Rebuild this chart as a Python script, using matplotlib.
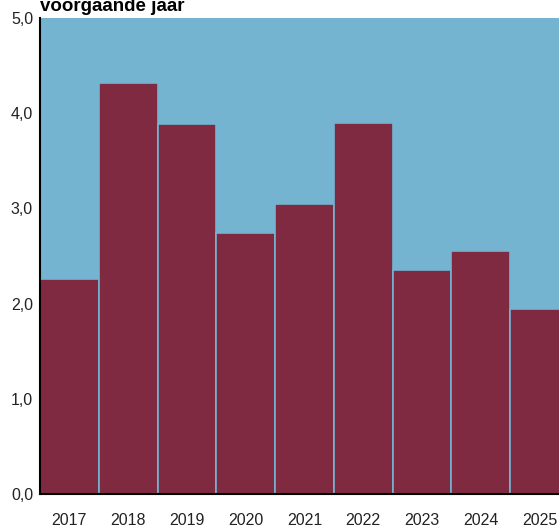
import matplotlib.pyplot as plt

plt.rcParams["font.family"] = ["Liberation Sans", "DejaVu Sans"]

years = ["2017", "2018", "2019", "2020", "2021", "2022", "2023", "2024", "2025"]
values = [2.26, 4.32, 3.89, 2.74, 3.05, 3.90, 2.35, 2.55, 1.94]
y_ticks = [0, 1, 2, 3, 4, 5]
y_labels = ["0,0", "1,0", "2,0", "3,0", "4,0", "5,0"]

BG = "#74b4d0"
BAR = "#7f2a40"

W, H = 559, 528
fig = plt.figure(figsize=(W / 100, H / 100), dpi=100)
ax = fig.add_axes([40 / W, 34 / H, 529 / W, 476 / H])
ax.set_facecolor(BG)

ax.bar(range(len(years)), values, width=1.0, color=BAR, edgecolor=BG, linewidth=1.2)
ax.set_xlim(-0.5, len(years) - 0.5)
ax.set_ylim(0, 5)
ax.set_yticks(y_ticks, y_labels)
ax.set_xticks(range(len(years)), years)
ax.tick_params(axis="both", length=0, labelsize=11.5, colors="#222222")
ax.tick_params(axis="x", pad=14)
ax.tick_params(axis="y", pad=5)

for side in ("top", "right"):
    ax.spines[side].set_visible(False)
for side in ("left", "bottom"):
    ax.spines[side].set_color("black")
    ax.spines[side].set_linewidth(1.5)

fig.text(40 / W, 1 - 11 / H, "voorgaande jaar", fontsize=13.5, fontweight="bold",
         va="baseline", ha="left")

fig.savefig("out.png", dpi=100)
